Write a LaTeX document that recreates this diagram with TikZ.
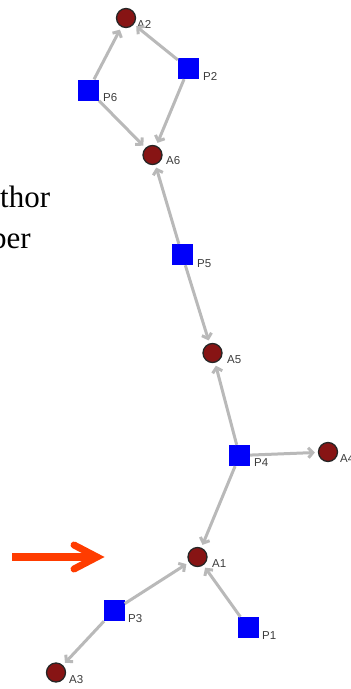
\documentclass[tikz,border=0pt]{standalone}
\usepackage{fontspec}
\setmainfont{Liberation Serif}
\newfontfamily\lblfont{Liberation Sans}
\usetikzlibrary{arrows.meta}
\definecolor{adot}{RGB}{135,20,20}
\definecolor{pblue}{RGB}{0,0,250}
\definecolor{edgegray}{RGB}{185,185,185}
\definecolor{lblgray}{RGB}{60,60,60}
\definecolor{redarrow}{RGB}{255,60,0}
\begin{document}
\begin{tikzpicture}[x=1pt,y=-1pt,
  anode/.style={circle,draw=black!85,line width=1.3pt,fill=adot,minimum size=19pt,inner sep=0pt},
  pnode/.style={rectangle,fill=pblue,minimum size=21pt,inner sep=0pt},
  lbl/.style={anchor=base west,font=\lblfont\fontsize{11.5}{12}\selectfont,text=lblgray,inner sep=0pt},
  link/.style={draw=edgegray,line width=3pt,-{Straight Barb[length=4.5pt,width=10pt]},shorten >=3pt},
  bigtext/.style={anchor=base west,font=\fontsize{31}{34}\selectfont,inner sep=0pt},
]
\useasboundingbox (0,0) rectangle (351,689);
% page text
\node[bigtext] (t1) at (0,207) {thor};
\node[bigtext] (t2) at (-9,248) {ber};
% red arrow
\coordinate (ra0) at (12,557);
\coordinate (ra1) at (97,557);
\coordinate (rau) at (74,545);
\coordinate (rad) at (74,569);
\draw[redarrow,line width=8pt] (ra0) -- (ra1);
\draw[redarrow,line width=7pt,line cap=round,line join=miter] (rau) -- (ra1) -- (rad);
% nodes
\node[anode] (A2) at (126,18) {};
\node[pnode] (P2) at (188.5,68.5) {};
\node[pnode] (P6) at (88.5,90) {};
\node[anode] (A6) at (152.5,155) {};
\node[pnode] (P5) at (182,254.5) {};
\node[anode] (A5) at (212.5,353) {};
\node[pnode] (P4) at (239.5,455.5) {};
\node[anode] (A4) at (328,452) {};
\node[anode] (A1) at (197.5,557) {};
\node[pnode] (P3) at (114,610.5) {};
\node[pnode] (P1) at (248,627.5) {};
\node[anode] (A3) at (56,672.5) {};
% labels
\node[lbl] (lA2) at (137,28) {A2};
\node[lbl] (lP2) at (203,80) {P2};
\node[lbl] (lP6) at (103,101) {P6};
\node[lbl] (lA6) at (166,164) {A6};
\node[lbl] (lP5) at (197,267) {P5};
\node[lbl] (lA5) at (227,363) {A5};
\node[lbl] (lP4) at (254,466) {P4};
\node[lbl] (lA4) at (340,462) {A4};
\node[lbl] (lA1) at (212,567) {A1};
\node[lbl] (lP3) at (128,622) {P3};
\node[lbl] (lP1) at (262,639) {P1};
\node[lbl] (lA3) at (69,683) {A3};
% connectors
\draw[link] (P6) -- (A2);
\draw[link] (P2) -- (A2);
\draw[link] (P6) -- (A6);
\draw[link] (P2) -- (A6);
\draw[link] (P5) -- (A6);
\draw[link] (P5) -- (A5);
\draw[link] (P4) -- (A5);
\draw[link] (P4) -- (A4);
\draw[link] (P4) -- (A1);
\draw[link] (P3) -- (A1);
\draw[link] (P1) -- (A1);
\draw[link] (P3) -- (A3);
\end{tikzpicture}
\end{document}
